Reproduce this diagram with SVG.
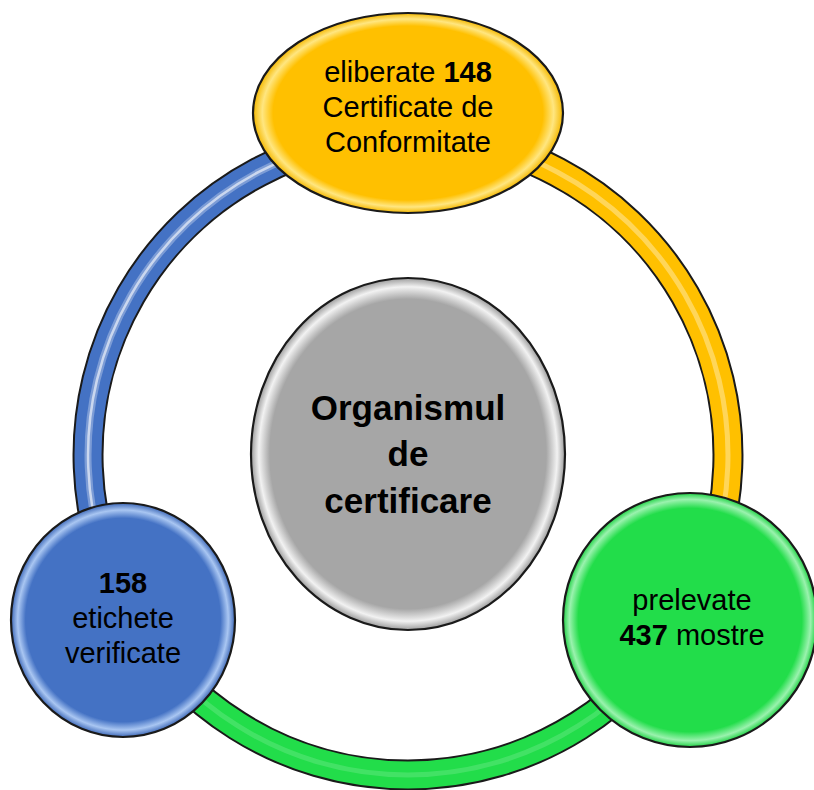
<svg xmlns="http://www.w3.org/2000/svg" width="814" height="790" viewBox="0 0 814 790">
<defs>
<style>
.ring-edge{fill:none;stroke:#1a1a1a;stroke-width:31}
.ring{fill:none;stroke-width:27}
.shine{fill:none;stroke:#ffffff}
.node{stroke:#1a1a1a;stroke-width:2.2}
.t{font-family:"Liberation Sans",Arial,sans-serif;font-size:29px;fill:#000;text-anchor:middle}
.b{font-weight:bold}
.tc{font-family:"Liberation Sans",Arial,sans-serif;font-size:35px;font-weight:bold;fill:#000;text-anchor:middle}
</style>
<radialGradient id="gY" cx="0.5" cy="0.5" r="0.5">
<stop offset="0" stop-color="#FFC000"/><stop offset="0.87" stop-color="#FFC000"/><stop offset="0.94" stop-color="#FFE680"/><stop offset="1" stop-color="#F5B800"/>
</radialGradient>
<radialGradient id="gG" cx="0.5" cy="0.5" r="0.5">
<stop offset="0" stop-color="#22DD4A"/><stop offset="0.88" stop-color="#22DD4A"/><stop offset="0.95" stop-color="#9AF2AE"/><stop offset="1" stop-color="#1FD244"/>
</radialGradient>
<radialGradient id="gB" cx="0.5" cy="0.5" r="0.5">
<stop offset="0" stop-color="#4472C4"/><stop offset="0.87" stop-color="#4472C4"/><stop offset="0.94" stop-color="#A9C6F2"/><stop offset="1" stop-color="#3E69B8"/>
</radialGradient>
<radialGradient id="gS" cx="0.5" cy="0.5" r="0.5">
<stop offset="0" stop-color="#A6A6A6"/><stop offset="0.88" stop-color="#A6A6A6"/><stop offset="0.95" stop-color="#F2F2F2"/><stop offset="1" stop-color="#9C9C9C"/>
</radialGradient>
</defs>
<rect width="814" height="790" fill="#ffffff"/>
<g id="connectors">
<path class="ring-edge" d="M 408 135 A 320 320 0 0 1 685.1 615"/>
<path class="ring" stroke="#FFC000" d="M 408 135 A 320 320 0 0 1 685.1 615"/>
<path class="shine" stroke-width="5" opacity="0.35" d="M 408 135 A 320 320 0 0 1 685.1 615"/>
<path class="ring-edge" d="M 685.1 615 A 320 320 0 0 1 130.9 615"/>
<path class="ring" stroke="#22DD4A" d="M 685.1 615 A 320 320 0 0 1 130.9 615"/>
<path class="shine" stroke-width="5" opacity="0.15" d="M 685.1 615 A 320 320 0 0 1 130.9 615"/>
<path class="ring-edge" d="M 130.9 615 A 320 320 0 0 1 408 135"/>
<path class="ring" stroke="#4472C4" d="M 130.9 615 A 320 320 0 0 1 408 135"/>
<path class="shine" stroke-width="7" opacity="0.3" d="M 130.9 615 A 320 320 0 0 1 408 135"/>
<path class="shine" stroke-width="2.5" opacity="0.6" d="M 130.9 615 A 320 320 0 0 1 408 135"/>
</g>
<g id="node-top">
<ellipse class="node" cx="408" cy="113" rx="155" ry="100" fill="url(#gY)"/>
<text class="t" x="408" y="82">eliberate <tspan class="b">148</tspan></text>
<text class="t" x="408" y="117">Certificate de</text>
<text class="t" x="408" y="152">Conformitate</text>
</g>
<g id="node-center">
<ellipse class="node" cx="408" cy="454" rx="157" ry="176" fill="url(#gS)"/>
<text class="tc" x="408" y="420">Organismul</text>
<text class="tc" x="408" y="466">de</text>
<text class="tc" x="408" y="513">certificare</text>
</g>
<g id="node-left">
<ellipse class="node" cx="123" cy="620" rx="112" ry="117" fill="url(#gB)"/>
<text class="t b" x="123" y="593">158</text>
<text class="t" x="123" y="628">etichete</text>
<text class="t" x="123" y="663">verificate</text>
</g>
<g id="node-right">
<ellipse class="node" cx="690" cy="620" rx="127" ry="127" fill="url(#gG)"/>
<text class="t" x="692" y="610">prelevate</text>
<text class="t" x="692" y="645"><tspan class="b">437</tspan> mostre</text>
</g>
</svg>
